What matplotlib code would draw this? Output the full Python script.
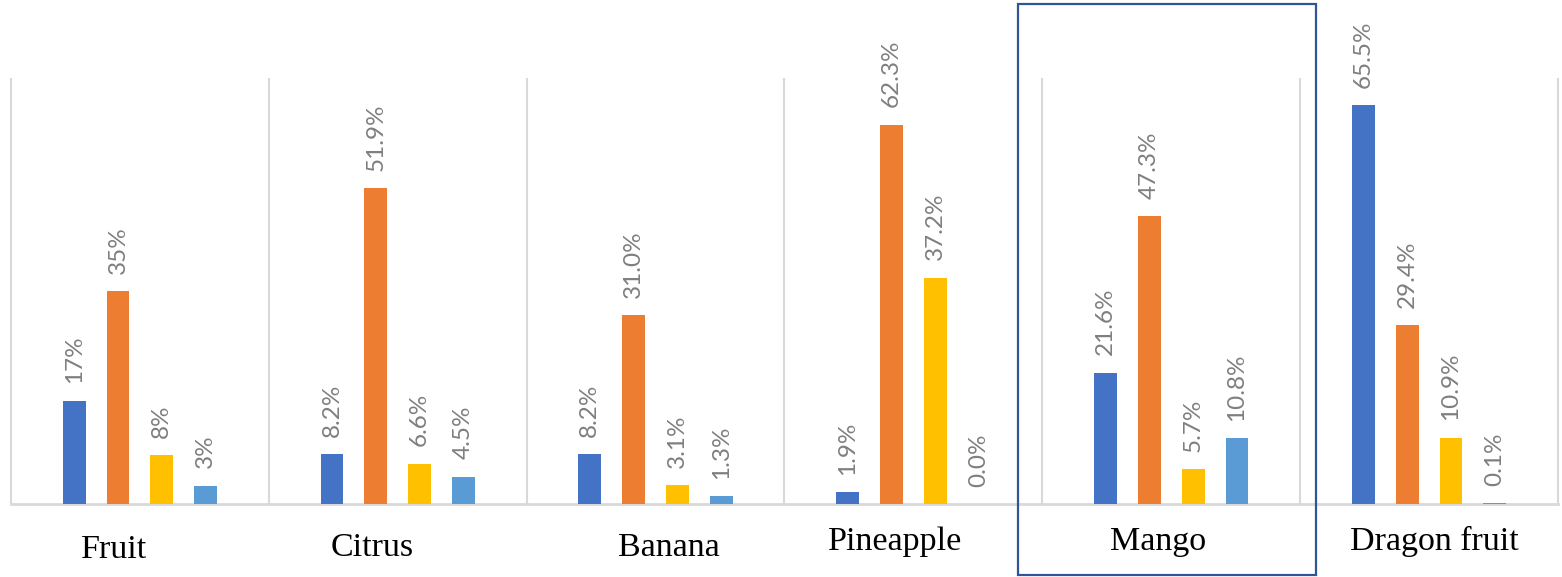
import numpy as np
import matplotlib
matplotlib.use('Agg')
import matplotlib.pyplot as plt
from matplotlib.patches import Rectangle

categories = ['Fruit', 'Citrus', 'Banana', 'Pineapple', 'Mango', 'Dragon fruit']
series_1 = [17.0, 8.2, 8.2, 1.9, 21.6, 65.5]
series_2 = [35.0, 51.9, 31.0, 62.3, 47.3, 29.4]
series_3 = [8.0, 6.6, 3.1, 37.2, 5.7, 10.9]
series_4 = [3.0, 4.5, 1.3, 0.0, 10.8, 0.1]
labels_1 = ['17%', '8.2%', '8.2%', '1.9%', '21.6%', '65.5%']
labels_2 = ['35%', '51.9%', '31.0%', '62.3%', '47.3%', '29.4%']
labels_3 = ['8%', '6.6%', '3.1%', '37.2%', '5.7%', '10.9%']
labels_4 = ['3%', '4.5%', '1.3%', '0.0%', '10.8%', '0.1%']

colors = ['#4472C4', '#ED7D31', '#FFC000', '#5B9BD5']
grid_color = '#D9D9D9'
label_color = '#7F7F7F'

# hand placed category text boxes: (x offset in groups, baseline in px from top)
cat_offsets = [-0.10, -0.10, 0.05, -0.07, -0.05, 0.02]
cat_baselines = [558, 556, 556, 550, 550, 550]

W, H = 1562, 577
fig = plt.figure(figsize=(W / 100, H / 100), dpi=100)
ax = fig.add_axes([11 / W, (H - 504) / H, (1558 - 11) / W, (504 - 78) / H])

xx = np.arange(len(categories))
width = 0.089
step = 0.17
all_series = [series_1, series_2, series_3, series_4]
all_labels = [labels_1, labels_2, labels_3, labels_4]

for k, (vals, labs) in enumerate(zip(all_series, all_labels)):
    pos = xx + (k - 1.5) * step
    ax.bar(pos, vals, width=width, color=colors[k], zorder=3)
    for p, v, t in zip(pos, vals, labs):
        ax.annotate(t, (p, v), xytext=(0, 12.5), textcoords='offset points',
                    rotation=90, ha='center', va='bottom', color=label_color,
                    fontsize=17.5, family=['Lato', 'DejaVu Sans'])

ax.set_xlim(-0.5, len(categories) - 0.5)
ax.set_ylim(0, 70)
ax.vlines(np.arange(-0.5, len(categories), 1), 0, 70, color=grid_color,
          linewidth=1.5, clip_on=False, zorder=1)
ax.axhline(0, color=grid_color, linewidth=2, clip_on=False, zorder=2)

for s in ax.spines.values():
    s.set_visible(False)
ax.set_xticks([])
ax.set_yticks([])

for i, name in enumerate(categories):
    xf = (11 + (i + 0.5 + cat_offsets[i]) * (1558 - 11) / len(categories)) / W
    yf = 1 - cat_baselines[i] / H
    fig.text(xf, yf, name, ha='center', va='baseline', fontsize=24.5,
             family='Liberation Serif', color='black')

# highlight box around Mango
box = Rectangle((1018 / W, 1 - 575 / H), (1316 - 1018) / W, (575 - 4) / H,
                transform=fig.transFigure, fill=False, edgecolor='#2F5597',
                linewidth=1.6, zorder=10)
fig.patches.append(box)

fig.savefig('out.png', dpi=100)
